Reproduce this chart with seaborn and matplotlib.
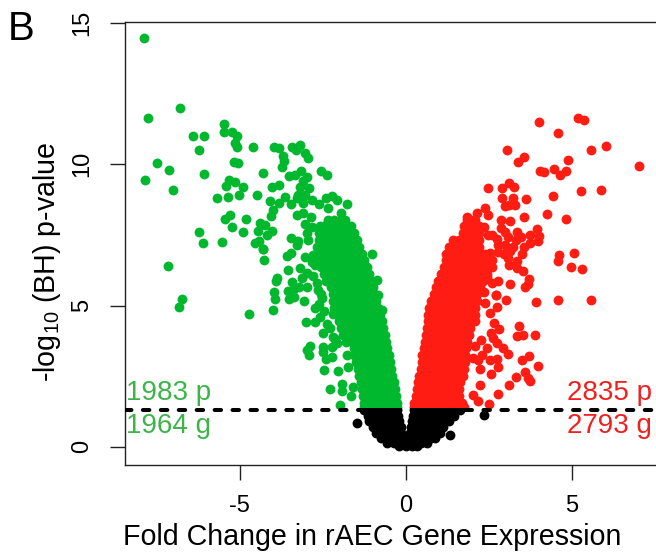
import numpy as np
import pandas as pd
import matplotlib
matplotlib.use('Agg')
import matplotlib.pyplot as plt
from matplotlib.patches import Rectangle
import seaborn as sns

green_x = [-7.87,-6.80,-7.75,-5.46,-5.46,-5.24,-5.09,-6.41,-6.08,-5.14,-5.09,-6.23,-4.6,-3.96,-3.82,-3.42,-3.17,-3.3,-3.03,-2.95,
           -3.7,-3.68,-3.73,-5.18,-5.04,-7.5,-7.12,-6.07,-4.29,-3.53,-3.34,-3.14,-2.54,-2.37,-2.96,-3.1,-7.86,-5.31,-5.14,-5.41,
           -4.91,-4.02,-3.81,-7.01,-5.03,-5.68,-5.35,-4.48,-3.64,-4.09,-3.83,-3.18,-2.9,-3.23,-3.03,-3.28,-3.46,-3.08,-2.83,-2.61,
           -2.4,-2.22,-2.06,-1.78,-3.99,-4.05,-3.28,-3.1,-2.85,-2.33,-1.96,-5.28,-5.45,-4.81,-4.39,-4.24,-5.22,-4.45,-4.02,-6.22,
           -4.9,-4.17,-3.03,-2.83,-2.98,-3.47,-2.95,-3.25,-6.12,-5.52,-4.55,-4.43,-4.31,
           -4.29,-4.27,-7.17,-6.75,-6.84,-4.73,-3.58,-3.46,-3.28,-3.55,-3.18,-3.03,-2.83,-2.78,-3.87,-3.92,-3.42,-3.56,-3.21,-3.38,-3.97,
           -3.94,-3.53,-3.36,-4.01,-3.06,-2.98,-3.13,-2.98,-2.68,-2.73,-2.53,-2.58,-2.73,-2.99,-2.48,-2.28,-2.88,-2.98,-2.92,-2.48,
           -2.5,-2.23,-2.4,-2.23,-2.45,-2.03,-2.28,-1.93,-1.92,-1.66,-1.98,-1.58,-1.73,-2.18,-2.08,-1.78,-1.02,-0.87,-0.82,-0.72,
           -2.72,-2.8,-2.65,-2.55,-2.6,-2.45,-2.38,-2.2,-2.12]
green_y = [14.49,12.0,11.64,11.44,11.16,11.16,11.0,11.0,11.0,10.74,10.6,10.5,10.63,10.61,10.57,10.61,10.67,10.5,10.41,10.21,
           10.28,10.12,9.9,10.1,10.05,10.05,9.79,9.67,9.69,9.6,9.61,9.78,9.76,9.61,9.54,9.42,9.46,9.45,9.39,9.22,
           9.2,9.21,9.28,9.09,8.91,8.82,8.84,8.9,8.84,8.69,8.62,9.21,9.15,8.91,8.91,8.8,8.58,8.62,8.74,8.6,
           8.82,8.88,8.74,8.6,8.38,8.16,8.21,8.29,8.15,8.44,8.29,8.2,8.06,8.08,7.93,7.87,7.78,7.64,7.65,7.6,
           7.59,7.5,7.89,7.79,7.56,7.38,7.32,7.3,7.21,7.25,7.22,7.3,7.01,
           6.99,6.62,6.39,5.22,4.95,4.69,6.77,6.87,7.14,6.26,6.32,6.73,6.55,6.79,5.96,5.88,5.82,5.5,5.64,5.55,5.47,
           5.23,5.22,5.31,4.85,5.16,5.67,5.96,6.14,5.79,4.9,5.25,4.6,4.43,4.43,4.01,4.19,3.57,3.42,3.26,3.52,
           3.36,3.52,3.11,3.19,2.72,2.68,2.04,2.22,1.97,1.79,1.48,2.13,2.83,3.9,3.66,3.25,6.82,5.9,5.37,4.84,
           6.45,6.05,5.55,5.4,5.05,4.8,4.35,4.7,3.8]

green_row_y = [8.04,7.8,7.56,7.32,7.08,6.84,6.6,6.36,6.12,5.88,5.64,5.4,5.16,4.92,4.68,4.44,4.2,3.96,3.72,3.48,3.24,3.0,2.76,2.52,2.28,2.04,1.8,1.56,1.4]
green_row_x = [[-2.35,-2.15,-1.95,-1.82],
               [-2.58,-2.45,-2.25,-2.05,-1.85,-1.65],
               [-2.62,-2.42,-2.22,-2.02,-1.82,-1.62,-1.55],
               [-2.6,-2.4,-2.2,-2.0,-1.8,-1.6,-1.48],
               [-2.68,-2.5,-2.3,-2.1,-1.9,-1.7,-1.5,-1.42],
               [-2.66,-2.45,-2.25,-2.05,-1.85,-1.65,-1.45,-1.33],
               [-2.6,-2.4,-2.2,-2.0,-1.8,-1.6,-1.4,-1.25],
               [-2.55,-2.35,-2.15,-1.95,-1.75,-1.55,-1.35,-1.18],
               [-2.45,-2.25,-2.05,-1.85,-1.65,-1.45,-1.25,-1.11],
               [-2.4,-2.2,-2.0,-1.8,-1.6,-1.4,-1.2,-1.05],
               [-2.25,-2.05,-1.85,-1.65,-1.45,-1.25,-1.1,-1.0],
               [-2.2,-2.0,-1.8,-1.6,-1.4,-1.2,-1.02,-.95],
               [-2.2,-2.02,-1.82,-1.62,-1.42,-1.22,-1.02,-.89],
               [-2.15,-1.95,-1.75,-1.55,-1.35,-1.15,-.95,-.83],
               [-2.05,-1.88,-1.68,-1.48,-1.28,-1.08,-.88,-.77],
               [-2.0,-1.82,-1.62,-1.42,-1.22,-1.02,-.82,-.71],
               [-1.95,-1.75,-1.55,-1.35,-1.15,-.95,-.75,-.67],
               [-1.9,-1.7,-1.5,-1.3,-1.1,-.9,-.7,-.63],
               [-1.8,-1.62,-1.42,-1.22,-1.02,-.82,-.62,-.59],
               [-1.55,-1.35,-1.15,-.95,-.75,-.55],
               [-1.55,-1.4,-1.2,-1.0,-.8,-.6,-.51],
               [-1.5,-1.3,-1.1,-.9,-.7,-.55,-.47],
               [-1.45,-1.25,-1.05,-.85,-.65,-.43],
               [-1.4,-1.2,-1.0,-.8,-.6,-.4],
               [-1.35,-1.15,-.95,-.75,-.55,-.36],
               [-1.32,-1.12,-.92,-.72,-.52,-.33],
               [-1.3,-1.1,-.9,-.7,-.5,-.3],
               [-1.27,-1.07,-.87,-.67,-.47,-.27],
               [-1.25,-1.05,-.85,-.65,-.45,-.25]]

red_x = [4.0,5.18,5.38,4.58,6.02,5.58,3.05,3.55,3.39,4.9,7.04,4.03,4.18,4.46,4.82,4.64,3.11,2.49,2.9,3.27,
         5.27,5.89,4.43,2.9,3.22,3.63,2.99,3.12,3.29,2.4,2.16,2.47,4.27,3.56,4.82,2.88,3.15,1.84,2.87,2.37,
         3.95,2.99,3.34,3.07,3.47,3.74,4.0,3.98,3.73,2.49,2.59,2.74,3.32,2.77,3.0,3.22,3.56,2.79,2.96,3.14,
         3.49,2.54,5.07,4.61,4.58,3.08,3.34,3.1,3.35,3.54,4.99,5.31,2.59,2.59,3.71,3.67,3.59,3.13,2.79,2.59,
         2.72,2.44,3.01,3.92,4.59,5.59,
         3.42,2.81,3.34,3.52,3.88,2.66,2.56,2.64,2.76,2.94,3.08,3.7,3.5,3.99,3.58,3.32,3.68,3.75,3.11,2.77,
         2.51,2.79,2.74,2.56,2.44,2.26,2.09,2.29,2.54,2.04,2.19,2.24,2.24,2.19,2.04,2.72,2.76,2.54,2.39,2.37]
red_y = [11.51,11.65,11.57,11.1,10.65,10.51,10.51,10.27,10.07,10.15,9.94,9.75,9.72,9.82,9.76,9.61,9.35,9.16,9.16,9.2,
         9.07,9.08,8.88,8.82,8.82,8.76,8.52,8.55,8.57,8.45,8.26,8.21,8.25,8.13,8.05,8.03,8.0,8.12,7.76,7.79,
         7.71,7.62,7.59,7.44,7.41,7.51,7.46,7.27,7.23,7.51,7.5,7.34,7.32,7.14,7.14,7.08,7.06,6.91,6.82,6.94,
         6.82,6.87,6.85,6.78,6.59,6.67,6.56,6.42,6.33,6.23,6.36,6.28,6.61,6.38,5.94,5.76,5.66,5.77,5.88,5.79,
         5.38,6.02,5.19,5.14,5.19,5.19,
         4.29,4.16,3.92,3.96,3.94,4.37,4.04,3.84,3.68,3.51,3.28,3.2,3.06,2.85,2.66,2.47,2.44,2.31,2.18,1.85,
         1.52,2.83,3.09,2.56,3.48,3.78,3.57,3.25,3.07,3.13,3.07,2.77,2.18,1.63,1.83,5.37,4.96,4.72,5.08,5.49]

red_row_y = [8.04,7.8,7.56,7.32,7.08,6.84,6.6,6.36,6.12,5.88,5.64,5.4,5.16,4.92,4.68,4.44,4.2,3.96,3.72,3.48,3.24,3.0,2.76,2.52,2.28,2.04,1.8,1.56,1.4]
red_row_x = [[1.85,2.0,2.1],
             [1.75,1.95,2.15,2.2],
             [1.72,1.9,2.1,2.2],
             [1.42,1.62,1.82,2.02,2.2],
             [1.3,1.5,1.7,1.9,2.1,2.22],
             [1.22,1.42,1.62,1.82,2.02,2.22,2.4],
             [1.2,1.4,1.6,1.8,2.0,2.2,2.4,2.5],
             [1.15,1.32,1.52,1.72,1.92,2.12,2.32,2.5],
             [1.05,1.25,1.45,1.65,1.85,2.05,2.25,2.45],
             [.96,1.14,1.34,1.54,1.74,1.94,2.14,2.34],
             [.9,1.08,1.28,1.48,1.68,1.88,2.08,2.25],
             [.85,1.0,1.2,1.4,1.6,1.8,2.0,2.15],
             [.75,.95,1.15,1.35,1.55,1.75,1.95,2.15],
             [.7,.88,1.08,1.28,1.48,1.68,1.88,2.08],
             [.67,.85,1.05,1.25,1.45,1.65,1.85,2.05,2.1],
             [.66,.8,1.0,1.2,1.4,1.6,1.8,2.0,2.1],
             [.65,.85,1.05,1.25,1.45,1.65,1.85,1.95],
             [.62,.78,.98,1.18,1.38,1.58,1.78,1.9],
             [.58,.8,1.0,1.2,1.4,1.6,1.8,1.85],
             [.55,.72,.92,1.12,1.32,1.52,1.72,1.82],
             [.5,.7,.9,1.1,1.3,1.5,1.7,1.8],
             [.48,.64,.84,1.04,1.24,1.44,1.64,1.78],
             [.45,.65,.85,1.05,1.25,1.45,1.65,1.76],
             [.4,.58,.78,.98,1.18,1.38,1.58,1.74],
             [.37,.55,.75,.95,1.15,1.35,1.55,1.65],
             [.33,.5,.7,.9,1.1,1.3,1.5,1.6],
             [.3,.48,.68,.88,1.08,1.28,1.48,1.62],
             [.26,.42,.62,.82,1.02,1.22,1.42,1.62,1.7],
             [.24,.4,.6,.8,1.0,1.2,1.4,1.6,1.75]]

black_x = [1.34,2.35,-1.47]
black_y = [.41,1.12,.85]
black_row_y = [1.3,1.1,.9,.7,.5,.3,.12,.03]
black_row_x = [[-1.25,-1.05,-.85,-.65,-.45,-.25,.25,.45,.65,.85,1.05,1.25,1.45,1.65],
               [-1.15,-.95,-.75,-.55,-.35,-.22,.22,.35,.55,.75,.95,1.15,1.35,1.45],
               [-1.1,-.9,-.7,-.5,-.3,-.2,.2,.3,.5,.7,.9,1.1,1.3],
               [-1.0,-.8,-.6,-.4,-.2,-.15,.15,.2,.4,.6,.8,1.0,1.12],
               [-.9,-.7,-.5,-.3,-.13,.13,.3,.5,.7,.9,1.03],
               [-.75,-.55,-.35,-.15,0.0,.15,.35,.55,.75,.88],
               [-.55,-.35,-.15,.05,.25,.45,.65],
               [-.2,0.0,.2,.35]]

threshold = 1.3
cut = 1.36
x_ticks = [-5,0,5]
y_ticks = [0,5,10,15]


def with_rows(x, y, row_x, row_y):
    xs = list(x)
    ys = list(y)
    for r, yy in zip(row_x, row_y):
        xs += r
        ys += [yy]*len(r)
    return pd.DataFrame({'fc': xs, 'p': ys})


green = with_rows(green_x, green_y, green_row_x, green_row_y)
red = with_rows(red_x, red_y, red_row_x, red_row_y)
black = with_rows(black_x, black_y, black_row_x, black_row_y)

sns.set_style('ticks')
plt.rcParams['font.family'] = ['Liberation Sans', 'DejaVu Sans']
plt.rcParams['mathtext.default'] = 'regular'
plt.rcParams['text.color'] = 'black'
plt.rcParams['axes.labelcolor'] = 'black'
plt.rcParams['xtick.labelcolor'] = 'black'
plt.rcParams['ytick.labelcolor'] = 'black'

fig = plt.figure(figsize=(6.56, 5.53), dpi=100)
ax = fig.add_axes([125/656, 1-464.5/553, 540/656, 443/553])
ax.set_xlim(-8.455, 7.81)
ax.set_ylim(-0.63, 15.06)

for df, col in ((green, '#00B82E'), (red, '#FF1C12')):
    sns.scatterplot(data=df, x='fc', y='p', color=col, s=50, linewidth=0, ax=ax)
    ax.collections[-1].set_clip_path(Rectangle((-9, cut), 18, 15, transform=ax.transData))
sns.scatterplot(data=black, x='fc', y='p', color='black', s=50, linewidth=0, ax=ax)
ax.collections[-1].set_clip_path(Rectangle((-9, -1), 18, 1+cut, transform=ax.transData))

ax.axhline(threshold, color='black', lw=2.9, dashes=(1.6, 2.85), dash_capstyle='round', zorder=5)

ax.text(-8.42, 1.65, '1983 p', color='#3CB44A', fontsize=20, ha='left', va='baseline')
ax.text(-8.42, 0.485, '1964 g', color='#3CB44A', fontsize=20, ha='left', va='baseline')
ax.text(7.42, 1.65, '2835 p', color='#F0201E', fontsize=20, ha='right', va='baseline')
ax.text(7.42, 0.485, '2793 g', color='#F0201E', fontsize=20, ha='right', va='baseline')

ax.set_xticks(x_ticks)
ax.set_yticks(y_ticks)
ax.tick_params(axis='x', length=11, width=1, labelsize=17, pad=11, color='#222222')
ax.tick_params(axis='y', length=11, width=1, labelsize=17, pad=12, color='#222222')
plt.setp(ax.get_yticklabels(), rotation=90, va='center')
ax.set_xticklabels([str(v) for v in x_ticks])
for s in ax.spines.values():
    s.set_linewidth(1)
    s.set_color('#222222')

ax.set_xlabel('Fold Change in rAEC Gene Expression', fontsize=20.6)
ax.set_ylabel('-log$_{10}$ (BH) p-value', fontsize=20.6)
ax.xaxis.set_label_coords(0.457, -0.133)
ax.yaxis.set_label_coords(-0.114, 0.457)
fig.text(8/656, 1-40/553, 'B', fontsize=29, ha='left', va='baseline')

fig.savefig('out.png', dpi=100)
